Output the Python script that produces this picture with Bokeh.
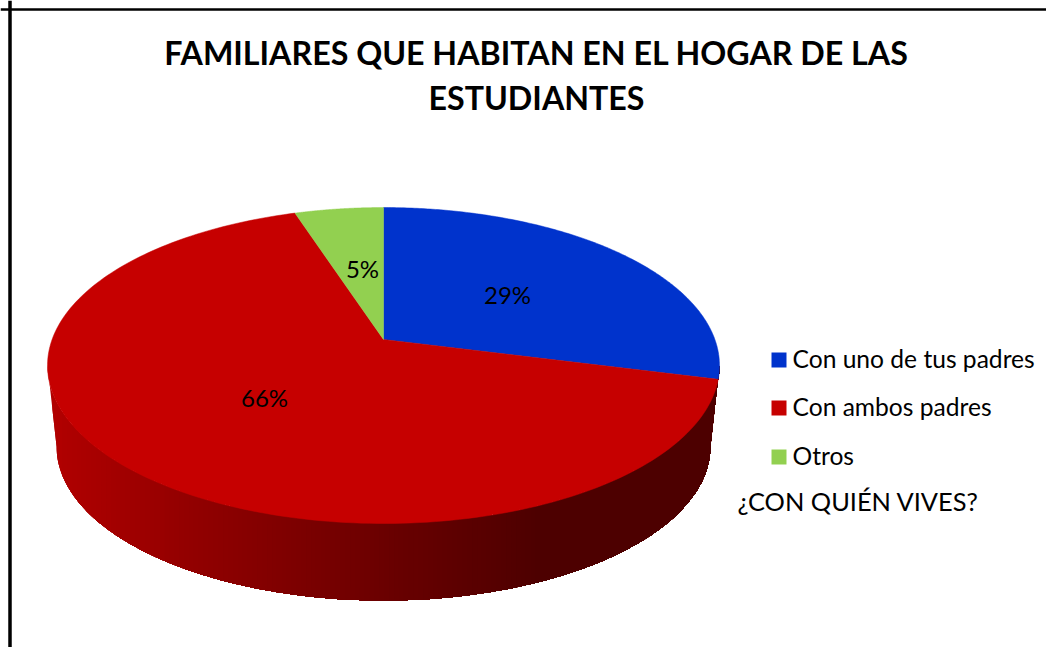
import numpy as np
from bokeh.plotting import figure
from bokeh.models import Range1d, Span
from bokeh.core.properties import value
from bokeh.embed import file_html
from bokeh.resources import INLINE

title_lines = ["FAMILIARES QUE HABITAN EN EL HOGAR DE LAS", "ESTUDIANTES"]
categories = ["Con uno de tus padres", "Con ambos padres", "Otros"]
shares = [29, 66, 5]
colors = ["#0033CC", "#C60000", "#92D050"]
legend_title = "¿CON QUIÉN VIVES?"
FONT = "Lato"

# projection of the tilted disc into picture pixels
CX, CY, A, B, K = 383.0, 339.0, 331.4, 153.7, 0.1646
WALL_SCALE, WALL_CY = 0.973, 421.0


def project(theta, cy=CY, scale=1.0):
    u, v = np.sin(theta), -np.cos(theta)
    w = 1 - K * v
    return CX + scale * A * u / w, cy + scale * B * v / w


p = figure(width=1046, height=647, output_backend="svg", toolbar_location=None,
           x_range=Range1d(0, 1046), y_range=Range1d(647, 0),
           min_border=0, outline_line_color=None, background_fill_color="white")
p.axis.visible = False
p.grid.visible = False

# frame
p.add_layout(Span(location=9.5, dimension="height", line_color="#000000", line_width=3.5))
p.add_layout(Span(location=9, dimension="width", line_color="#000000", line_width=2.5))

# side wall of the big slice: painted left to right, each band overlapping the rest
t_start = np.arccos(-K)
t_front = np.linspace(t_start, 2 * np.pi - t_start, 240)
xt, yt = project(t_front)
xb, yb = project(t_front, WALL_CY, WALL_SCALE)
xl = np.concatenate(([xt[0]], xb, [xt[-1]]))
yl = np.concatenate(([yt[0]], yb, [yt[-1]]))
order_t, order_l = np.argsort(xt), np.argsort(xl)
xu_s, yu_s = xt[order_t], yt[order_t]
xl_s, yl_s = xl[order_l], yl[order_l]
stop_x = [48, 164, 387, 540, 719]
stop_red = [178, 152, 106, 77, 77]
bands = np.linspace(xt.min(), 540, 102)[:-1]
for a in bands:
    mu, ml = xu_s > a, xl_s > a
    xs = [a] + list(xu_s[mu]) + list(xl_s[ml][::-1]) + [a]
    ys = [np.interp(a, xu_s, yu_s)] + list(yu_s[mu]) + list(yl_s[ml][::-1]) + [np.interp(a, xl_s, yl_s)]
    r = int(np.interp(a, stop_x, stop_red))
    p.patch(xs, ys, fill_color=f"#{r:02X}0000", line_color=None)

# top surface
total = sum(shares)
start = 0.0
for s, c in zip(shares, colors):
    end = start + 2 * np.pi * s / total
    th = np.linspace(start, end, 200)
    x, y = project(th)
    p.patch([CX] + list(x), [CY] + list(y), fill_color=c, line_color=c, line_width=0.5)
    start = end

# titles
p.text(x=[536, 536], y=[52, 96.5], text=title_lines, text_font=value(FONT), text_font_style="bold",
       text_font_size=value("32.2px"), text_align="center", text_baseline="middle", text_color="#000000")

# percentage labels
p.text(x=[507, 264, 362], y=[294, 397, 268], text=[f"{v}%" for v in shares],
       text_font=value(FONT), text_font_size=value("24px"), text_align="center",
       text_baseline="middle", text_color="#000000")

# legend
ly = [359.5, 407.5, 456.5]
p.rect(x=[778.5] * 3, y=ly, width=15, height=15, fill_color=colors, line_color=None)
p.text(x=[792] * 3, y=[357.5, 405.5, 454.5], text=categories, text_font=value(FONT), text_font_size=value("24.6px"),
       text_align="left", text_baseline="middle", text_color="#000000")
p.text(x=[737], y=[500], text=[legend_title], text_font=value(FONT), text_font_size=value("25.4px"),
       text_align="left", text_baseline="middle", text_color="#000000")

open("out.html", "w").write(file_html(p, INLINE))
